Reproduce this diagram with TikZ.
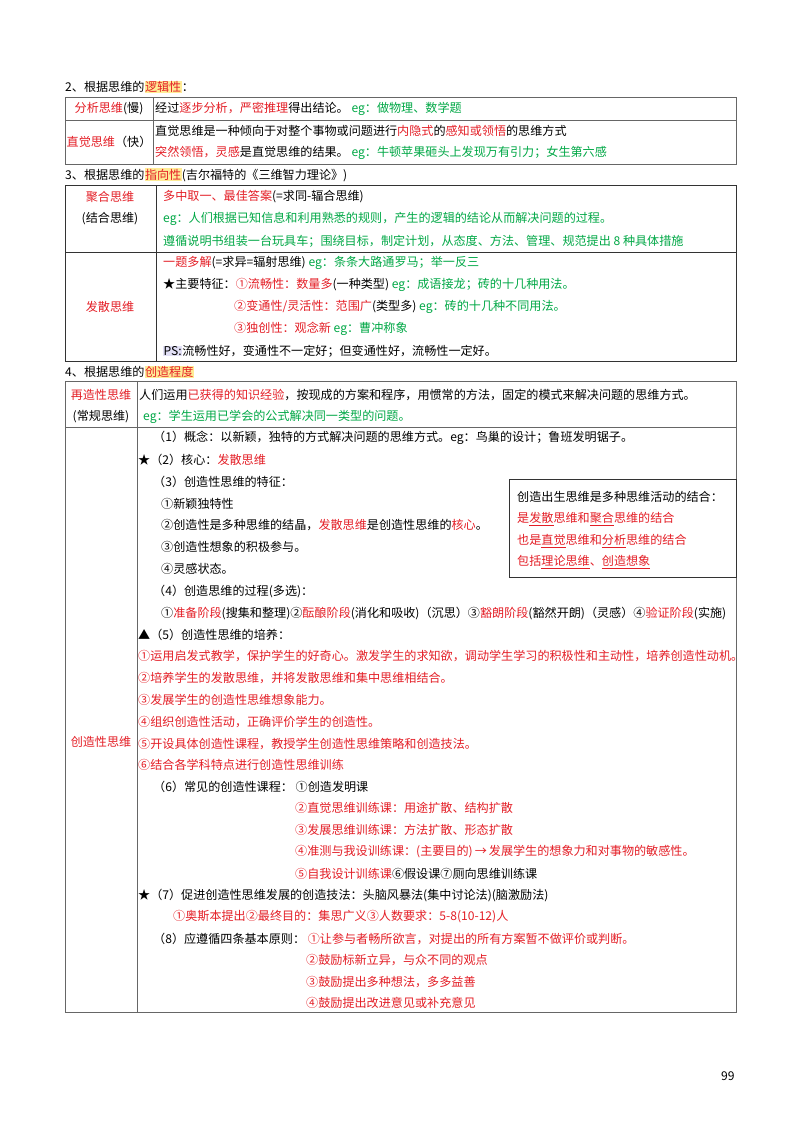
\documentclass[tikz,border=0pt]{standalone}
\usepackage{fontspec}
\setmainfont{Noto Sans CJK SC}
\usetikzlibrary{positioning}
\definecolor{hred}{RGB}{228,30,38}
\definecolor{hgreen}{RGB}{0,168,70}
\definecolor{hyel}{RGB}{255,236,150}
\definecolor{hlav}{RGB}{226,224,246}
\newcommand{\R}[1]{\textcolor{hred}{#1}}
\newcommand{\G}[1]{\textcolor{hgreen}{#1}}
\newcommand{\hl}[2][hyel]{{\setlength{\fboxsep}{0.5pt}\colorbox{#1}{#2}}}

\begin{document}
\begin{tikzpicture}[x=1pt,y=-1pt,
  txt/.style={anchor=west,inner sep=0pt,font=\fontsize{12.1}{13}\selectfont},
  mid/.style={inner sep=0pt,font=\fontsize{12.1}{13}\selectfont,align=center},
  rule/.style={draw=black!60,line width=0.9pt}]
\useasboundingbox[fill=white] (0,0) rectangle (800,1130);

% section 2
\node[txt] (s2) at (65,87) {2、根据思维的\hl{\R{逻辑性}}：};
\draw[rule] (65,97) rectangle (736,164);
\draw[rule] (65,120) -- (736,120);
\draw[rule] (153,97) -- (153,164);
\node[mid] (fx) at (109,109) {\R{分析思维}(慢)};
\node[mid] (zj) at (109,142) {\R{直觉思维}（快）};
\node[txt] (fx1) at (155,109) {经过\R{逐步分析，严密推理}得出结论。 \G{eg：做物理、数学题}};
\node[txt] (zj1) at (155,131) {直觉思维是一种倾向于对整个事物或问题进行\R{内隐式}的\R{感知或领悟}的思维方式};
\node[txt] (zj2) at (155,153) {\R{突然领悟，灵感}是直觉思维的结果。 \G{eg：牛顿苹果砸头上发现万有引力；女生第六感}};

% section 3
\node[txt] (s3) at (65,175) {3、根据思维的\hl{\R{指向性}}(吉尔福特的《三维智力理论》)};
\draw[black!80,line width=1pt] (65,185) rectangle (736,361);
\draw[black!80,line width=1pt] (65,252) -- (736,252);
\draw[black!80,line width=1pt] (156,185) -- (156,361);
\node[mid] (jh) at (110,208) {\R{聚合思维}\\[8pt](结合思维)};
\node[mid] (fs) at (110,307) {\R{发散思维}};
\node[txt] (jh1) at (163,197) {\R{多中取一、最佳答案}(=求同-辐合思维)};
\node[txt] (jh2) at (163,219) {\G{eg：人们根据已知信息和利用熟悉的规则，产生的逻辑的结论从而解决问题的过程。}};
\node[txt] (jh3) at (163,241) {\G{遵循说明书组装一台玩具车；围绕目标，制定计划，从态度、方法、管理、规范提出 8 种具体措施}};
\node[txt] (fs1) at (163,263) {\R{一题多解}(=求异=辐射思维) \G{eg：条条大路通罗马；举一反三}};
\node[txt] (fs2) at (163,285) {★主要特征：\R{①流畅性：数量多}(一种类型) \G{eg：成语接龙；砖的十几种用法。}};
\node[txt] (fs3) at (234,307) {\R{②变通性/灵活性：范围广}(类型多) \G{eg：砖的十几种不同用法。}};
\node[txt] (fs4) at (234,329) {\R{③独创性：观念新} \G{eg：曹冲称象}};
\node[txt] (fs5) at (163,351) {\hl[hlav]{PS:}流畅性好，变通性不一定好；但变通性好，流畅性一定好。};

% section 4
\node[txt] (s4) at (65,372) {4、根据思维的\hl{\R{创造程度}}};
\draw[rule] (65,381) rectangle (736,1012);
\draw[rule] (65,427) -- (736,427);
\draw[rule] (137,381) -- (137,1012);
\node[mid] (zz) at (101,406) {\R{再造性思维}\\[8pt](常规思维)};
\node[mid] (cz) at (101,742) {\R{创造性思维}};
\node[txt] (zz1) at (139,395) {人们运用\R{已获得的知识经验}，按现成的方案和程序，用惯常的方法，固定的模式来解决问题的思维方式。};
\node[txt] (zz2) at (143,417) {\G{eg：学生运用已学会的公式解决同一类型的问题。}};

\node[txt] (c1) at (153,438) {（1）概念：以新颖，独特的方式解决问题的思维方式。eg：鸟巢的设计；鲁班发明锯子。};
\node[txt] (c2) at (138,460) {★（2）核心：\R{发散思维}};
\node[txt] (c3) at (153,482) {（3）创造性思维的特征：};
\node[txt] (c31) at (161,504) {①新颖独特性};
\node[txt] (c32) at (161,525) {②创造性是多种思维的结晶，\R{发散思维}是创造性思维的\R{核心}。};
\node[txt] (c33) at (161,547) {③创造性想象的积极参与。};
\node[txt] (c34) at (161,569) {④灵感状态。};
\node[txt] (c4) at (153,591) {（4）创造思维的过程(多选)：};
\node[txt] (c41) at (161,613) {①\R{准备阶段}(搜集和整理)②\R{酝酿阶段}(消化和吸收)（沉思）③\R{豁朗阶段}(豁然开朗)（灵感）④\R{验证阶段}(实施)};
\node[txt] (c5) at (138,635) {▲（5）创造性思维的培养：};
\node[txt] (c51) at (138,656) {\R{①运用启发式教学，保护学生的好奇心。激发学生的求知欲，调动学生学习的积极性和主动性，培养创造性动机。}};
\node[txt] (c52) at (138,678) {\R{②培养学生的发散思维，并将发散思维和集中思维相结合。}};
\node[txt] (c53) at (138,700) {\R{③发展学生的创造性思维想象能力。}};
\node[txt] (c54) at (138,722) {\R{④组织创造性活动，正确评价学生的创造性。}};
\node[txt] (c55) at (138,744) {\R{⑤开设具体创造性课程，教授学生创造性思维策略和创造技法。}};
\node[txt] (c56) at (138,765) {\R{⑥结合各学科特点进行创造性思维训练}};
\node[txt] (c6) at (153,787) {（6）常见的创造性课程： ①创造发明课};
\node[txt] (c62) at (295,808) {\R{②直觉思维训练课：用途扩散、结构扩散}};
\node[txt] (c63) at (295,830) {\R{③发展思维训练课：方法扩散、形态扩散}};
\node[txt] (c64) at (295,852) {\R{④准测与我设训练课：(主要目的)\,→\,发展学生的想象力和对事物的敏感性。}};
\node[txt] (c65) at (295,874) {\R{⑤自我设计训练课}⑥假设课⑦厕向思维训练课};
\node[txt] (c7) at (138,895) {★（7）促进创造性思维发展的创造技法：头脑风暴法(集中讨论法)(脑激励法)};
\node[txt] (c71) at (173,917) {\R{①奥斯本提出②最终目的：集思广义③人数要求：5-8(10-12)人}};
\node[txt] (c8) at (153,939) {（8）应遵循四条基本原则： \R{①让参与者畅所欲言，对提出的所有方案暂不做评价或判断。}};
\node[txt] (c82) at (306,960) {\R{②鼓励标新立异，与众不同的观点}};
\node[txt] (c83) at (306,982) {\R{③鼓励提出多种想法，多多益善}};
\node[txt] (c84) at (306,1003) {\R{④鼓励提出改进意见或补充意见}};

% side box
\draw[black!80,line width=0.9pt] (509,479) rectangle (736,577);
\node[txt] (b1) at (517,497) {创造出生思维是多种思维活动的结合：};
\node[txt] (b2) at (517,519) {\R{是\underline{发散}思维和\underline{聚合}思维的结合}};
\node[txt] (b3) at (517,541) {\R{也是\underline{直觉}思维和\underline{分析}思维的结合}};
\node[txt] (b4) at (517,562) {\R{包括\underline{理论思维}、\underline{创造想象}}};

\node[txt] (pg) at (721,1076) {99};
\end{tikzpicture}
\end{document}
